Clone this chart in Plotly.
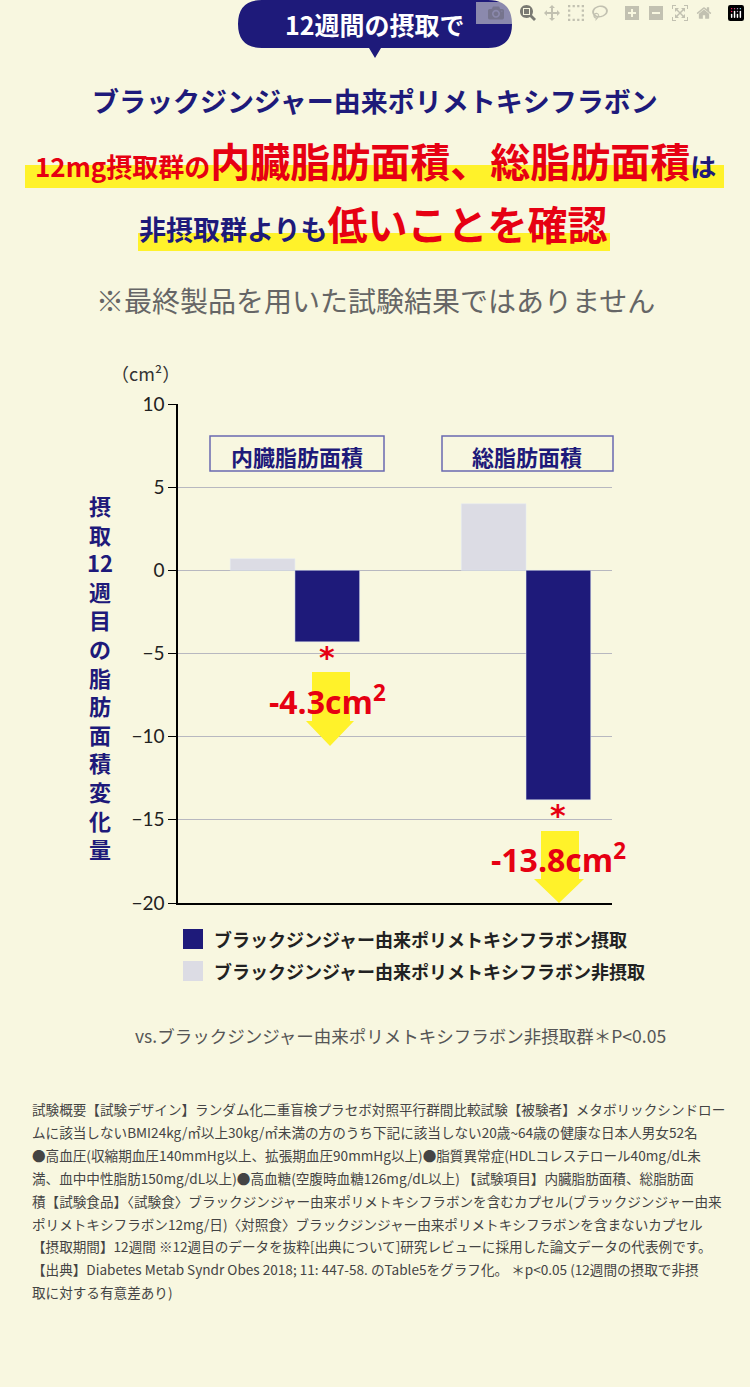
import plotly.graph_objects as go

W, H = 750, 1387

groups = ["内臓脂肪面積", "総脂肪面積"]
intake = [-4.3, -13.8]
no_intake = [0.7, 4.0]
diff_labels = ["-4.3cm<sup>2</sup>", "-13.8cm<sup>2</sup>"]
y_ticks = [10, 5, 0, -5, -10, -15, -20]
series_names = ["ブラックジンジャー由来ポリメトキシフラボン摂取",
                "ブラックジンジャー由来ポリメトキシフラボン非摂取"]

footnote = [
    "試験概要【試験デザイン】ランダム化二重盲検プラセボ対照平行群間比較試験【被験者】メタボリックシンドロー",
    "ムに該当しないBMI24kg/㎡以上30kg/㎡未満の方のうち下記に該当しない20歳~64歳の健康な日本人男女52名",
    "●高血圧(収縮期血圧140mmHg以上、拡張期血圧90mmHg以上)●脂質異常症(HDLコレステロール40mg/dL未",
    "満、血中中性脂肪150mg/dL以上)●高血糖(空腹時血糖126mg/dL以上) 【試験項目】内臓脂肪面積、総脂肪面",
    "積【試験食品】〈試験食〉ブラックジンジャー由来ポリメトキシフラボンを含むカプセル(ブラックジンジャー由来",
    "ポリメトキシフラボン12mg/日)〈対照食〉ブラックジンジャー由来ポリメトキシフラボンを含まないカプセル",
    "【摂取期間】12週間 ※12週目のデータを抜粋[出典について]研究レビューに採用した論文データの代表例です。",
    "【出典】Diabetes Metab Syndr Obes 2018; 11: 447-58. のTable5をグラフ化。 ＊p<0.05 (12週間の摂取で非摂",
    "取に対する有意差あり)",
]

NAVY = "#1e1a7a"
GRAY = "#dcdce4"
RED = "#e60012"
YEL = "#fff22a"
BG = "#f8f7e0"
FONT = "Noto Sans CJK JP"


def px(x):
    return x / W


def py(y):
    return 1 - y / H


x_pos = list(range(len(groups)))
fig = go.Figure()
fig.add_bar(x=[p - 0.14 for p in x_pos], y=no_intake, width=0.28,
            marker_color=GRAY, name=series_names[1])
fig.add_bar(x=[p + 0.14 for p in x_pos], y=intake, width=0.28,
            marker_color=NAVY, name=series_names[0])

fig.update_layout(
    width=W, height=H, margin=dict(l=0, r=0, t=0, b=0, pad=0, autoexpand=False),
    paper_bgcolor=BG, plot_bgcolor=BG, showlegend=False,
    font=dict(family=FONT, color="#333"),
    barmode="overlay",
)
fig.update_xaxes(domain=[px(178), px(612)], range=[-0.506, 1.372], automargin=False,
                 showticklabels=False, showgrid=False, zeroline=False,
                 showline=True, linecolor="black", linewidth=1.5)
fig.update_yaxes(domain=[py(903), py(404)], range=[-20, 10], automargin=False,
                 tickvals=y_ticks, ticks="outside", ticklen=8, tickcolor="black",
                 tickfont=dict(size=19, color="#222", family="Lato"),
                 showgrid=True, gridcolor="#b8b8c0", zeroline=False,
                 showline=True, linecolor="black", linewidth=1.5)

shapes = []
# header pill and pointer
shapes.append(dict(type="path", xref="paper", yref="paper",
                   path=f"M {px(262)},{py(0)} L {px(488)},{py(0)} Q {px(512)},{py(0)} {px(512)},{py(24)} "
                        f"Q {px(512)},{py(48)} {px(488)},{py(48)} L {px(381)},{py(48)} L {px(375)},{py(58)} "
                        f"L {px(369)},{py(48)} L {px(262)},{py(48)} Q {px(238)},{py(48)} {px(238)},{py(24)} "
                        f"Q {px(238)},{py(0)} {px(262)},{py(0)} Z",
                   fillcolor=NAVY, line_width=0, layer="below"))
# yellow highlights
shapes.append(dict(type="rect", xref="paper", yref="paper", x0=px(25), x1=px(724),
                   y0=py(188), y1=py(165), fillcolor=YEL, line_width=0, layer="below"))
shapes.append(dict(type="rect", xref="paper", yref="paper", x0=px(138), x1=px(610),
                   y0=py(251), y1=py(233), fillcolor=YEL, line_width=0, layer="below"))
# group label boxes
for x0, x1 in [(210, 384), (442, 613)]:
    shapes.append(dict(type="rect", xref="paper", yref="paper", x0=px(x0), x1=px(x1),
                       y0=py(471), y1=py(436), fillcolor=BG, line=dict(color="#6a6ab0", width=1.5)))
# yellow arrows
for sx0, sx1, top, bot, tx0, tx1, tip in [(312, 350, 672, 721, 306, 354, 746),
                                          (541, 579, 831, 879, 534, 584, 903)]:
    cx = (tx0 + tx1) / 2
    shapes.append(dict(type="path", xref="paper", yref="paper",
                       path=f"M {px(sx0)},{py(top)} L {px(sx1)},{py(top)} L {px(sx1)},{py(bot)} "
                            f"L {px(tx1)},{py(bot)} L {px(cx)},{py(tip)} L {px(tx0)},{py(bot)} "
                            f"L {px(sx0)},{py(bot)} Z",
                       fillcolor=YEL, line_width=0))
# legend swatches
shapes.append(dict(type="rect", xref="paper", yref="paper", x0=px(183), x1=px(203),
                   y0=py(949), y1=py(929), fillcolor=NAVY, line_width=0))
shapes.append(dict(type="rect", xref="paper", yref="paper", x0=px(183), x1=px(203),
                   y0=py(981), y1=py(961), fillcolor=GRAY, line_width=0))
fig.update_layout(shapes=shapes)


def note(x, y, text, size, color="#333", xanchor="center", bold=False):
    if bold:
        text = f"<b>{text}</b>"
    fig.add_annotation(x=px(x), y=py(y), xref="paper", yref="paper", text=text,
                       showarrow=False, xanchor=xanchor, yanchor="middle",
                       font=dict(size=size, color=color, family=FONT))


note(375, 24, "12週間の摂取で", 25, "white", bold=True)
note(375, 100, "ブラックジンジャー由来ポリメトキシフラボン", 27, NAVY, bold=True)
note(375, 160, f"<span style='font-size:26px;color:{RED}'>12mg摂取群の</span>"
               f"<span style='font-size:40px;color:{RED}'>内臓脂肪面積、総脂肪面積</span>"
               f"<span style='font-size:26px;color:{NAVY}'>は</span>", 26, bold=True)
note(373, 223, f"<span style='font-size:27px;color:{NAVY}'>非摂取群よりも</span>"
               f"<span style='font-size:40px;color:{RED}'>低いことを確認</span>", 27, bold=True)
note(375, 300, "※最終製品を用いた試験結果ではありません", 28, "#666")
note(145, 373, "（cm²）", 18, "#333")
note(100, 677, "<br>".join(["摂", "取", "12", "週", "目", "の", "脂", "肪",
                            "面", "積", "変", "化", "量"]), 22, NAVY, bold=True)
note(297, 456, groups[0], 22, NAVY, bold=True)
note(527, 456, groups[1], 22, NAVY, bold=True)

for i, v in enumerate(intake):
    fig.add_annotation(x=x_pos[i] + 0.14, y=v, yshift=-16, text="<b>*</b>", showarrow=False,
                       font=dict(size=30, color=RED, family="DejaVu Sans"))
    fig.add_annotation(x=x_pos[i] + 0.14, y=v, yshift=-58, text=f"<b>{diff_labels[i]}</b>",
                       showarrow=False, font=dict(size=32, color=RED, family="Open Sans"))

note(212, 939, series_names[0], 18, "#222", xanchor="left", bold=True)
note(212, 971, series_names[1], 18, "#222", xanchor="left", bold=True)
note(668, 1035, "vs.ブラックジンジャー由来ポリメトキシフラボン非摂取群＊P&lt;0.05", 17.5, "#555",
     xanchor="right")

for i, line in enumerate(footnote):
    note(30, 1109 + i * 22.9, line.replace("<", "&lt;"), 13.6, "#444", xanchor="left")

fig.write_html("out.html",
               post_script="document.body.style.margin='0';document.body.style.overflow='hidden';")
